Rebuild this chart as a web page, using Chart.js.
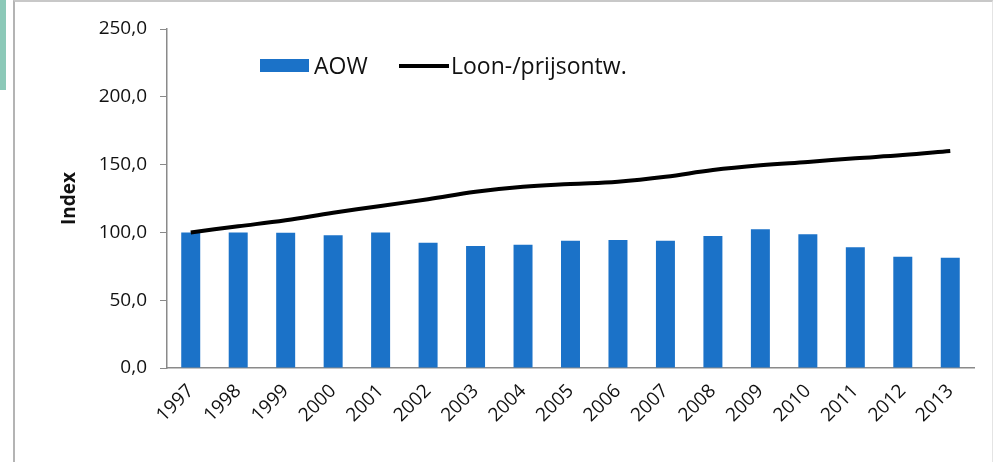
<!DOCTYPE html>
<html>
<head>
<meta charset="utf-8">
<script src="https://cdn.jsdelivr.net/npm/chart.js@4"></script>
<style>
  html, body { margin: 0; padding: 0; background: #fff; }
  #wrap { position: relative; width: 994px; height: 462px; overflow: hidden; }
  #frame { position: absolute; left: 13px; top: 0; width: 977px; height: 470px;
           border-left: 2px solid #b4b4b4; border-top: 2px solid #c8c8c8; border-right: 1px solid #e4e4e4; }
  #strip { position: absolute; left: 0; top: 0; width: 6px; height: 90px; background: #8cc9b8; }
  canvas { position: absolute; left: 0; top: 0; }
  .legend { position: absolute; top: 51px; font-family: "Open Sans", sans-serif; font-size: 23px; color: #111; line-height: 28px; }
  .swatch-bar { position: absolute; left: 260px; top: 59px; width: 49px; height: 13px; background: #1b72c8; }
  .swatch-line { position: absolute; left: 399px; top: 64px; width: 50px; height: 4px; background: #000; }
</style>
</head>
<body>
<div id="wrap">
  <div id="strip"></div>
  <div id="frame"></div>
  <canvas id="chart" width="994" height="462"></canvas>
  <div class="swatch-bar"></div>
  <div class="legend" style="left:314px">AOW</div>
  <div class="swatch-line"></div>
  <div class="legend" style="left:451px">Loon-/prijsontw.</div>
</div>
<script>
document.addEventListener("DOMContentLoaded", () => {
  // Data
  const years = ["1997", "1998", "1999", "2000", "2001", "2002", "2003", "2004", "2005",
                 "2006", "2007", "2008", "2009", "2010", "2011", "2012", "2013"];
  const aow = [100.0, 100.0, 99.8, 97.9, 100.0, 92.4, 90.0, 90.9, 93.9,
               94.4, 93.9, 97.3, 102.3, 98.6, 89.0, 82.1, 81.3];
  const loonPrijs = [100.0, 104.5, 109.0, 114.5, 119.5, 124.5, 130.0, 133.7, 135.7,
                     137.4, 141.0, 146.0, 149.5, 152.0, 154.6, 157.0, 160.0];
  const yTicks = [0, 50, 100, 150, 200, 250];

  const axisColor = "#8a8a8a";
  const tickFont = { family: "Open Sans", size: 19 };

  new Chart(document.getElementById("chart"), {
    type: "bar",
    data: {
      labels: years,
      datasets: [
        {
          type: "line",
          label: "Loon-/prijsontw.",
          data: loonPrijs,
          borderColor: "#000",
          borderWidth: 4,
          tension: 0.4,
          pointRadius: 0,
          fill: false,
          order: 0,
        },
        {
          label: "AOW",
          data: aow,
          backgroundColor: "#1b72c8",
          barPercentage: 0.4,
          categoryPercentage: 1.0,
          order: 1,
        },
      ],
    },
    options: {
      responsive: false,
      animation: false,
      layout: { padding: { left: 58, right: 20, top: 29, bottom: 0 } },
      plugins: {
        legend: { display: false },
        tooltip: { enabled: false },
      },
      scales: {
        x: {
          offset: true,
          grid: { display: false },
          border: { display: true, color: axisColor, width: 1.5 },
          ticks: {
            color: "#111",
            font: tickFont,
            minRotation: 45,
            maxRotation: 45,
            padding: 4,
          },
          afterFit: (scale) => { scale.height = 94; },
        },
        y: {
          min: 0,
          max: 250,
          afterBuildTicks: (scale) => { scale.ticks = yTicks.map((v) => ({ value: v })); },
          grid: { drawOnChartArea: false, tickLength: 7, color: axisColor },
          border: { display: true, color: axisColor, width: 1.5 },
          ticks: {
            color: "#111",
            font: tickFont,
            padding: 13,
            callback: (v) => v.toFixed(1).replace(".", ","),
          },
          title: {
            display: true,
            text: "Index",
            color: "#111",
            font: { family: "Open Sans", size: 19, weight: "bold" },
            padding: 0,
          },
          afterFit: (scale) => { scale.width = 109; },
        },
      },
    },
  });
});
</script>
</body>
</html>
